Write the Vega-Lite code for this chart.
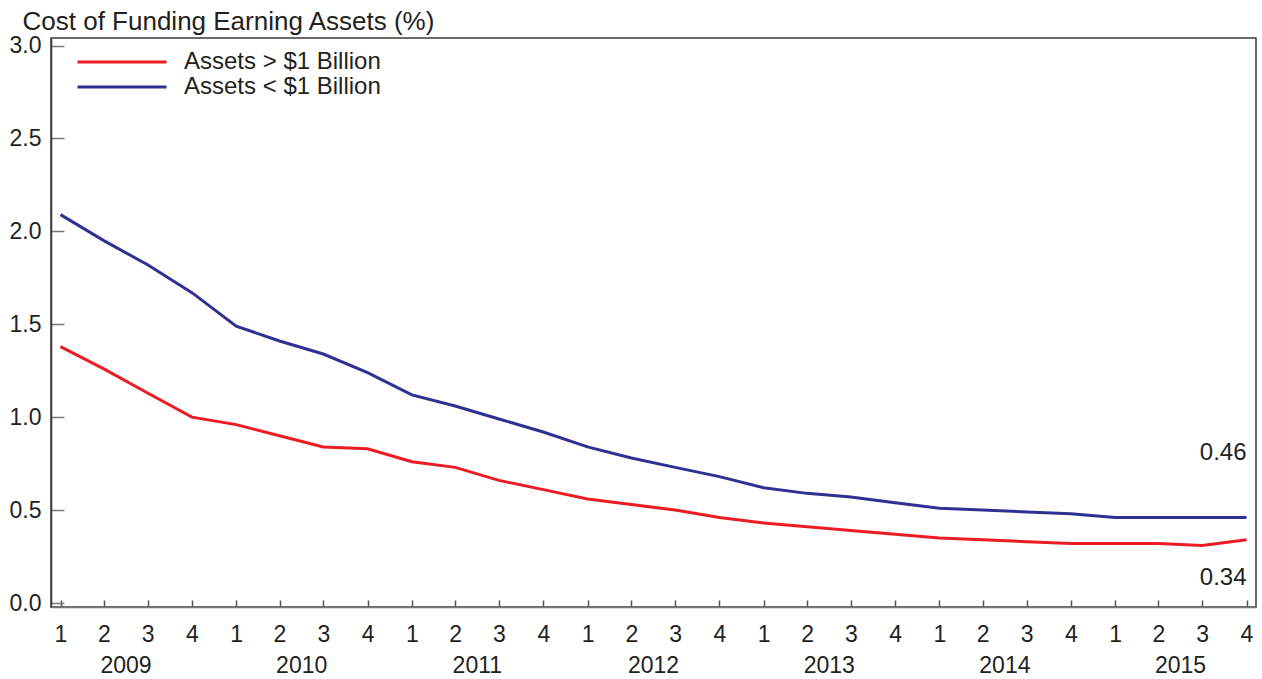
{
  "$schema": "https://vega.github.io/schema/vega-lite/v6.json",
  "width": 1205,
  "height": 569,
  "autosize": "none",
  "padding": {"left": 51, "top": 38, "right": 6, "bottom": 72},
  "background": "white",
  "config": {
    "font": "Liberation Sans",
    "view": {"stroke": "#3a3a3a", "strokeWidth": 1.5},
    "axis": {"labelFont": "Liberation Sans", "labelColor": "#231F20", "titleColor": "#231F20", "grid": false}
  },
  "data": {
    "values": [
      {"date": "2009-01-01", "series": "Assets > $1 Billion", "value": 1.38},
      {"date": "2009-04-01", "series": "Assets > $1 Billion", "value": 1.26},
      {"date": "2009-07-01", "series": "Assets > $1 Billion", "value": 1.13},
      {"date": "2009-10-01", "series": "Assets > $1 Billion", "value": 1.00},
      {"date": "2010-01-01", "series": "Assets > $1 Billion", "value": 0.96},
      {"date": "2010-04-01", "series": "Assets > $1 Billion", "value": 0.90},
      {"date": "2010-07-01", "series": "Assets > $1 Billion", "value": 0.84},
      {"date": "2010-10-01", "series": "Assets > $1 Billion", "value": 0.83},
      {"date": "2011-01-01", "series": "Assets > $1 Billion", "value": 0.76},
      {"date": "2011-04-01", "series": "Assets > $1 Billion", "value": 0.73},
      {"date": "2011-07-01", "series": "Assets > $1 Billion", "value": 0.66},
      {"date": "2011-10-01", "series": "Assets > $1 Billion", "value": 0.61},
      {"date": "2012-01-01", "series": "Assets > $1 Billion", "value": 0.56},
      {"date": "2012-04-01", "series": "Assets > $1 Billion", "value": 0.53},
      {"date": "2012-07-01", "series": "Assets > $1 Billion", "value": 0.50},
      {"date": "2012-10-01", "series": "Assets > $1 Billion", "value": 0.46},
      {"date": "2013-01-01", "series": "Assets > $1 Billion", "value": 0.43},
      {"date": "2013-04-01", "series": "Assets > $1 Billion", "value": 0.41},
      {"date": "2013-07-01", "series": "Assets > $1 Billion", "value": 0.39},
      {"date": "2013-10-01", "series": "Assets > $1 Billion", "value": 0.37},
      {"date": "2014-01-01", "series": "Assets > $1 Billion", "value": 0.35},
      {"date": "2014-04-01", "series": "Assets > $1 Billion", "value": 0.34},
      {"date": "2014-07-01", "series": "Assets > $1 Billion", "value": 0.33},
      {"date": "2014-10-01", "series": "Assets > $1 Billion", "value": 0.32},
      {"date": "2015-01-01", "series": "Assets > $1 Billion", "value": 0.32},
      {"date": "2015-04-01", "series": "Assets > $1 Billion", "value": 0.32},
      {"date": "2015-07-01", "series": "Assets > $1 Billion", "value": 0.31},
      {"date": "2015-10-01", "series": "Assets > $1 Billion", "value": 0.34},
      {"date": "2009-01-01", "series": "Assets < $1 Billion", "value": 2.09},
      {"date": "2009-04-01", "series": "Assets < $1 Billion", "value": 1.95},
      {"date": "2009-07-01", "series": "Assets < $1 Billion", "value": 1.82},
      {"date": "2009-10-01", "series": "Assets < $1 Billion", "value": 1.67},
      {"date": "2010-01-01", "series": "Assets < $1 Billion", "value": 1.49},
      {"date": "2010-04-01", "series": "Assets < $1 Billion", "value": 1.41},
      {"date": "2010-07-01", "series": "Assets < $1 Billion", "value": 1.34},
      {"date": "2010-10-01", "series": "Assets < $1 Billion", "value": 1.24},
      {"date": "2011-01-01", "series": "Assets < $1 Billion", "value": 1.12},
      {"date": "2011-04-01", "series": "Assets < $1 Billion", "value": 1.06},
      {"date": "2011-07-01", "series": "Assets < $1 Billion", "value": 0.99},
      {"date": "2011-10-01", "series": "Assets < $1 Billion", "value": 0.92},
      {"date": "2012-01-01", "series": "Assets < $1 Billion", "value": 0.84},
      {"date": "2012-04-01", "series": "Assets < $1 Billion", "value": 0.78},
      {"date": "2012-07-01", "series": "Assets < $1 Billion", "value": 0.73},
      {"date": "2012-10-01", "series": "Assets < $1 Billion", "value": 0.68},
      {"date": "2013-01-01", "series": "Assets < $1 Billion", "value": 0.62},
      {"date": "2013-04-01", "series": "Assets < $1 Billion", "value": 0.59},
      {"date": "2013-07-01", "series": "Assets < $1 Billion", "value": 0.57},
      {"date": "2013-10-01", "series": "Assets < $1 Billion", "value": 0.54},
      {"date": "2014-01-01", "series": "Assets < $1 Billion", "value": 0.51},
      {"date": "2014-04-01", "series": "Assets < $1 Billion", "value": 0.50},
      {"date": "2014-07-01", "series": "Assets < $1 Billion", "value": 0.49},
      {"date": "2014-10-01", "series": "Assets < $1 Billion", "value": 0.48},
      {"date": "2015-01-01", "series": "Assets < $1 Billion", "value": 0.46},
      {"date": "2015-04-01", "series": "Assets < $1 Billion", "value": 0.46},
      {"date": "2015-07-01", "series": "Assets < $1 Billion", "value": 0.46},
      {"date": "2015-10-01", "series": "Assets < $1 Billion", "value": 0.46}
    ]
  },
  "resolve": {"axis": {"x": "independent"}},
  "layer": [
    {
      "mark": {"type": "line", "strokeWidth": 3},
      "encoding": {
        "x": {
          "field": "date", "type": "temporal",
          "scale": {"type": "utc", "padding": 9.5, "nice": false},
          "axis": {
            "orient": "bottom",
            "title": null,
            "tickCount": {"interval": "month", "step": 3},
            "labelExpr": "utcquarter(datum.value)",
            "labelFontSize": 23,
            "labelPadding": 23,
            "labelAlign": "center",
            "tickSize": -7,
            "tickColor": "#555",
            "tickWidth": 1.5,
            "domainColor": "#777",
            "domainWidth": 1.5,
            "labelFlush": false,
            "labelOverlap": false
          }
        },
        "y": {
          "field": "value", "type": "quantitative",
          "scale": {"domain": [-0.0215, 3.0405], "nice": false, "zero": false},
          "axis": {
            "values": [0, 0.5, 1, 1.5, 2, 2.5, 3],
            "format": ".1f",
            "labelFontSize": 23,
            "labelPadding": 23,
            "tickSize": -13,
            "tickColor": "#777",
            "tickWidth": 1.5,
            "domainColor": "#3a3a3a",
            "domainWidth": 1.5,
            "title": "Cost of Funding Earning Assets (%)",
            "titleAngle": 0,
            "titleAlign": "left",
            "titleBaseline": "alphabetic",
            "titleX": -29,
            "titleY": -9,
            "titleFontSize": 26,
            "titleFontWeight": "normal",
            "titleFont": "Liberation Sans"
          }
        },
        "color": {
          "field": "series", "type": "nominal",
          "scale": {"domain": ["Assets > $1 Billion", "Assets < $1 Billion"], "range": ["#ED1C24", "#2E3192"]},
          "legend": {
            "title": null,
            "orient": "none",
            "legendX": 58,
            "legendY": 11,
            "symbolType": "M-3.87,0L3.87,0",
            "symbolSize": 529,
            "symbolStrokeWidth": 3,
            "labelFontSize": 24,
            "labelFont": "Liberation Sans",
            "labelColor": "#231F20",
            "labelLimit": 500,
            "labelOffset": 49,
            "rowPadding": 0
          }
        }
      }
    },
    {
      "transform": [{"filter": "datum.series == 'Assets < $1 Billion' && utcyear(datum.date) == 2015 && utcmonth(datum.date) == 9"}],
      "mark": {"type": "text", "align": "right", "baseline": "middle", "dy": -65, "fontSize": 24, "font": "Liberation Sans", "color": "#231F20"},
      "encoding": {
        "x": {
          "field": "date", "type": "temporal",
          "axis": {
            "orient": "bottom",
            "title": null,
            "values": [
              {"year": 2009, "month": 5, "date": 16, "utc": true},
              {"year": 2010, "month": 5, "date": 16, "utc": true},
              {"year": 2011, "month": 5, "date": 16, "utc": true},
              {"year": 2012, "month": 5, "date": 16, "utc": true},
              {"year": 2013, "month": 5, "date": 16, "utc": true},
              {"year": 2014, "month": 5, "date": 16, "utc": true},
              {"year": 2015, "month": 5, "date": 16, "utc": true}
            ],
            "labelExpr": "utcyear(datum.value)",
            "labelFontSize": 23,
            "labelPadding": 47,
            "ticks": false,
            "domain": false,
            "labelFlush": false,
            "labelOverlap": false
          }
        },
        "y": {"field": "value", "type": "quantitative"},
        "text": {"field": "value", "type": "quantitative", "format": ".2f"}
      }
    },
    {
      "transform": [{"filter": "datum.series == 'Assets > $1 Billion' && utcyear(datum.date) == 2015 && utcmonth(datum.date) == 9"}],
      "mark": {"type": "text", "align": "right", "baseline": "middle", "dy": 38, "fontSize": 24, "font": "Liberation Sans", "color": "#231F20"},
      "encoding": {
        "x": {"field": "date", "type": "temporal", "axis": null},
        "y": {"field": "value", "type": "quantitative"},
        "text": {"field": "value", "type": "quantitative", "format": ".2f"}
      }
    }
  ]
}
